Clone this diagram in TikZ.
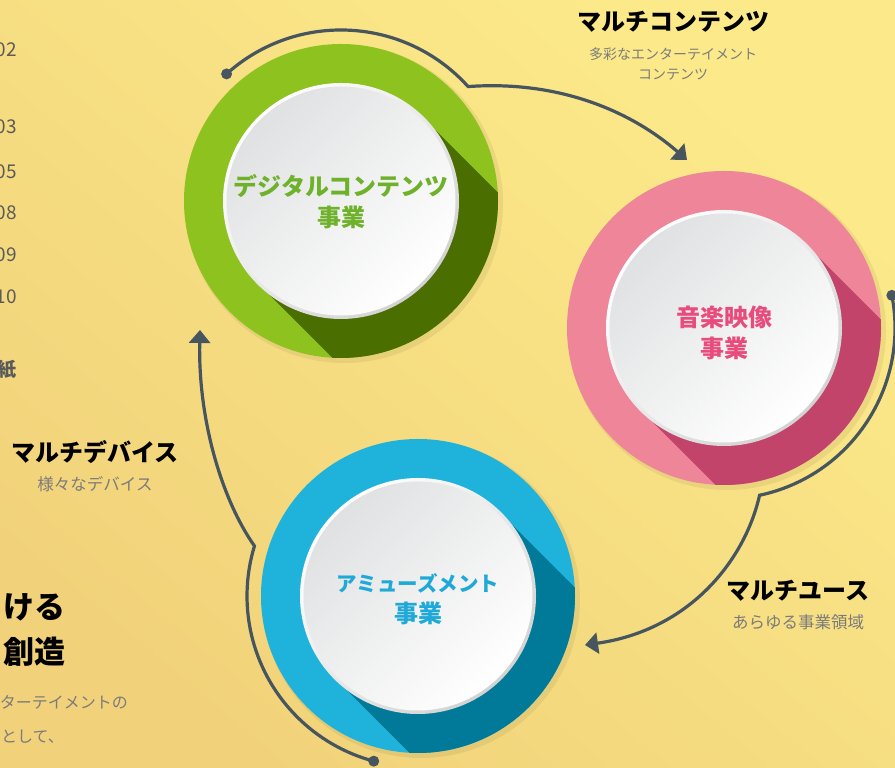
\documentclass[tikz,border=0pt]{standalone}
\usepackage{fontspec}
\setmainfont{Noto Sans CJK JP}
\usepackage{tikz}
\usetikzlibrary{calc,positioning,arrows.meta}
\definecolor{bgLight}{HTML}{FCEA8A}
\definecolor{bgDark}{HTML}{F1D27A}
\definecolor{greenRing}{HTML}{8DC21F}
\definecolor{greenDark}{HTML}{4A6E00}
\definecolor{greenText}{HTML}{6EB12A}
\definecolor{pinkRing}{HTML}{EE8598}
\definecolor{pinkDark}{HTML}{C2446B}
\definecolor{pinkText}{HTML}{E84C7C}
\definecolor{blueRing}{HTML}{1FB3DB}
\definecolor{blueDark}{HTML}{017A9A}
\definecolor{blueText}{HTML}{1FA9D9}
\definecolor{arrowGray}{HTML}{46555E}
\definecolor{subGray}{HTML}{7B7B7B}
\definecolor{pageGray}{HTML}{5A5A5A}
\definecolor{discTop}{HTML}{E0E1E2}
\definecolor{discRim}{HTML}{D2D2D2}
\tikzset{
    ring/.style={
    circle,minimum size=314pt,inner sep=0pt
    },
    disctext/.style={
    align=center,font=\bfseries\fontsize{24}{31}\selectfont
    },
    headtext/.style={
    inner sep=0pt,font=\bfseries\fontsize{24}{28}\selectfont,text=black
    },
    subtext/.style={
    inner sep=0pt,align=center,font=\fontsize{16.5}{20}\selectfont,text=subGray
    },
    pagetext/.style={
    inner sep=0pt,anchor=east,text=pageGray,font=\fontsize{19}{22}\selectfont
    },
    loopline/.style={
    draw=arrowGray,line width=3.2pt,-{Triangle[length=13pt,width=21pt]}
    },
    dotend/.style={
    circle,fill=arrowGray,inner sep=0pt,minimum size=11pt
    },
}

\begin{document}
\begin{tikzpicture}[x=1pt,y=1pt]
  \useasboundingbox (0,0) rectangle (895,768);
  \shade[top color=bgLight,bottom color=bgDark,shading angle=-40] (0,0) rectangle (895,768);

  % page text cut off at the left edge
  \node[pagetext] (n02) at (17,718) {02};
  \node[pagetext] (n03) at (17,641) {03};
  \node[pagetext] (n05) at (17,596) {05};
  \node[pagetext] (n08) at (17,555) {08};
  \node[pagetext] (n09) at (17,513) {09};
  \node[pagetext] (n10) at (17,471) {10};
  \node[pagetext,font=\bfseries\fontsize{19}{22}\selectfont] (paper) at (17,398) {紙};
  \node[pagetext,text=black,font=\bfseries\fontsize{31}{36}\selectfont] (leadA) at (66,161) {ける};
  \node[pagetext,text=black,font=\bfseries\fontsize{31}{36}\selectfont] (leadB) at (66,116) {創造};
  \node[pagetext,text=subGray,font=\fontsize{16}{20}\selectfont] (bodyA) at (128,66) {ターテイメントの};
  \node[pagetext,text=subGray,font=\fontsize{16}{20}\selectfont] (bodyB) at (64,31) {として、};

  % digital contents
  \fill[black,opacity=.06] (344,564) circle (159);
  \node[ring,fill=greenRing] (dc) at (341,567) {};
  \begin{scope}
    \clip (dc.center) circle (157);
    \fill[greenDark] ($(dc)+(45:117)$) -- ++(315:330) -- ++(225:234) -- ($(dc)+(225:117)$) -- cycle;
  \end{scope}
  \shade[top color=white,bottom color=discRim,shading angle=45] (dc) circle (118);
  \shade[top color=discTop,bottom color=white,shading angle=45] (dc) circle (114.5);
  \node[disctext,text=greenText] (dcText) at (341,566) {デジタルコンテンツ\\事業};

  % music and video
  \fill[black,opacity=.06] (727,437) circle (159);
  \node[ring,fill=pinkRing] (mv) at (724,440) {};
  \begin{scope}
    \clip (mv.center) circle (157);
    \fill[pinkDark] ($(mv)+(45:117)$) -- ++(315:330) -- ++(225:234) -- ($(mv)+(225:117)$) -- cycle;
  \end{scope}
  \shade[top color=white,bottom color=discRim,shading angle=45] (mv) circle (118);
  \shade[top color=discTop,bottom color=white,shading angle=45] (mv) circle (114.5);
  \node[disctext,text=pinkText] (mvText) at (724,435) {音楽映像\\事業};

  % amusement
  \fill[black,opacity=.06] (421,169) circle (159);
  \node[ring,fill=blueRing] (am) at (418,172) {};
  \begin{scope}
    \clip (am.center) circle (157);
    \fill[blueDark] ($(am)+(45:117)$) -- ++(315:330) -- ++(225:234) -- ($(am)+(225:117)$) -- cycle;
  \end{scope}
  \shade[top color=white,bottom color=discRim,shading angle=45] (am) circle (118);
  \shade[top color=discTop,bottom color=white,shading angle=45] (am) circle (114.5);
  \node[disctext,text=blueText] (amText) at (418,169) {{\fontsize{20.5}{31}\selectfont アミューズメント}\\事業};

  % loop arrows
  \coordinate (mcStart) at ($(dc)+(132:171)$);
  \coordinate (mcTip) at (687,608);
  \coordinate (muStart) at ($(mv)+(11:171)$);
  \coordinate (muTip) at (585,123);
  \coordinate (mdStart) at ($(am)+(255:171)$);
  \coordinate (mdTip) at (200,438);
  \draw[loopline] (mcStart) arc[start angle=132,end angle=42,radius=171]
    .. controls (560,688) and (632,656) .. (mcTip);
  \draw[loopline] (muStart) arc[start angle=11,end angle=-78,radius=171]
    .. controls (745,208) and (690,138) .. (muTip);
  \draw[loopline] (mdStart) arc[start angle=255,end angle=163,radius=171]
    .. controls (222,268) and (198,348) .. (mdTip);
  \node[dotend] (mcDot) at (mcStart) {};
  \node[dotend] (muDot) at (muStart) {};
  \node[dotend] (mdDot) at (mdStart) {};

  % labels
  \node[headtext] (mcHead) at (673,746) {マルチコンテンツ};
  \node[subtext,font=\fontsize{14}{20}\selectfont] (mcSub) at (673,704) {多彩なエンターテイメント\\コンテンツ};
  \node[headtext] (muHead) at (798,177) {マルチユース};
  \node[subtext] (muSub) at (798,146) {あらゆる事業領域};
  \node[headtext] (mdHead) at (95,316) {マルチデバイス};
  \node[subtext] (mdSub) at (95,284) {様々なデバイス};
\end{tikzpicture}
\end{document}
